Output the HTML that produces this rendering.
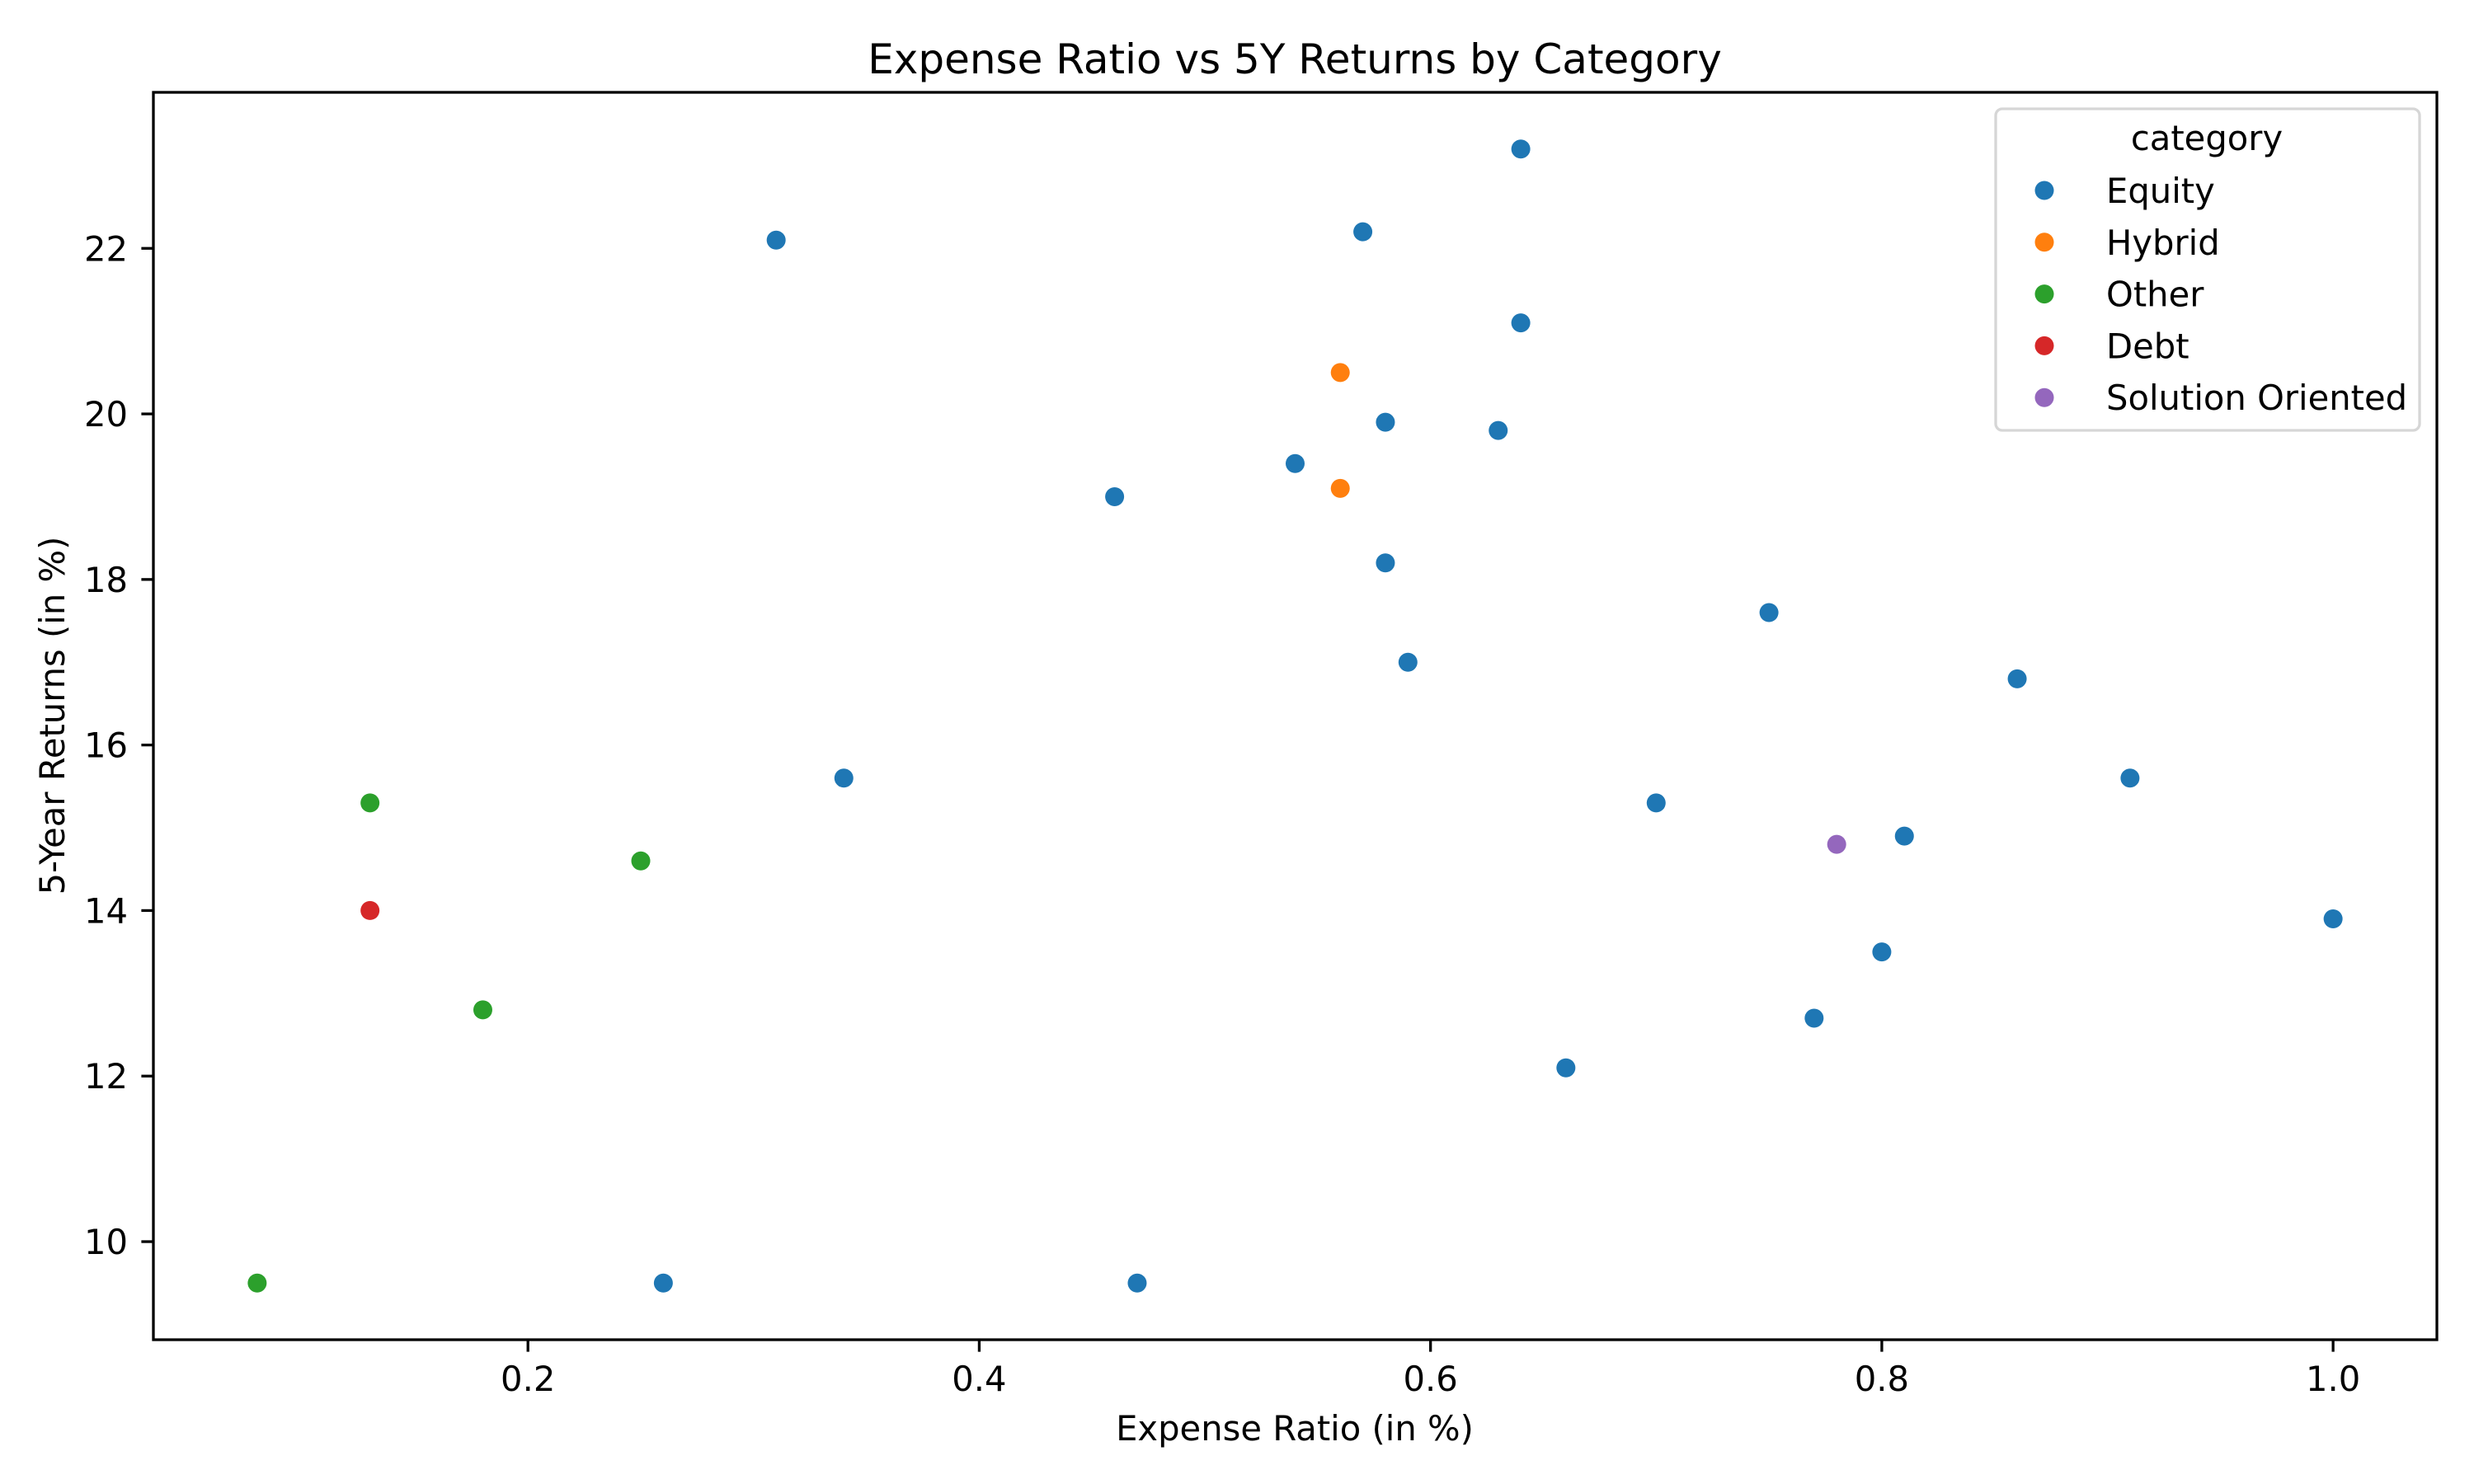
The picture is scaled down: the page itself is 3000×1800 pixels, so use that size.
<!DOCTYPE html>
<html><head><meta charset="utf-8"><style>
html,body{margin:0;padding:0;background:#fff;}
svg{display:block;font-family:"DejaVu Sans","Liberation Sans",sans-serif;}
</style></head><body>
<svg id="chart" width="3000" height="1800" viewBox="0 0 3000 1800">
<text x="1570" y="89" font-size="50" text-anchor="middle">Expense Ratio vs 5Y Returns by Category</text>
<g id="plot"></g>
<text x="1570" y="1747" font-size="41.7" text-anchor="middle">Expense Ratio (in %)</text>
<text transform="translate(78,868) rotate(-90)" font-size="41.7" text-anchor="middle">5-Year Returns (in %)</text>
</svg>
<script>
const categories = ["Equity","Hybrid","Other","Debt","Solution Oriented"];
const colors = ["#1f77b4","#ff7f0e","#2ca02c","#d62728","#9467bd"];
const equityX = [0.64,0.31,0.57,0.64,0.58,0.63,0.54,0.46,0.58,0.75,0.59,0.86,0.34,0.91,0.70,0.81,1.00,0.80,0.77,0.66,0.26,0.47];
const equityY = [23.2,22.1,22.2,21.1,19.9,19.8,19.4,19.0,18.2,17.6,17.0,16.8,15.6,15.6,15.3,14.9,13.9,13.5,12.7,12.1,9.5,9.5];
const hybridX = [0.56,0.56];
const hybridY = [20.5,19.1];
const otherX = [0.13,0.25,0.18,0.08];
const otherY = [15.3,14.6,12.8,9.5];
const debtX = [0.13];
const debtY = [14.0];
const solutionX = [0.78];
const solutionY = [14.8];
const xTicks = [0.2,0.4,0.6,0.8,1.0];
const xTickLabels = ["0.2","0.4","0.6","0.8","1.0"];
const yTicks = [10,12,14,16,18,20,22];
const yTickLabels = ["10","12","14","16","18","20","22"];

const seriesX = [equityX,hybridX,otherX,debtX,solutionX];
const seriesY = [equityY,hybridY,otherY,debtY,solutionY];
const L=186,R=2955,T=112,B=1625;
const allX=[].concat(...seriesX), allY=[].concat(...seriesY);
let x0=Math.min(...allX),x1=Math.max(...allX),y0=Math.min(...allY),y1=Math.max(...allY);
const mx=(x1-x0)*0.05,my=(y1-y0)*0.05;x0-=mx;x1+=mx;y0-=my;y1+=my;
const sx=v=>L+(v-x0)/(x1-x0)*(R-L);
const sy=v=>B-(v-y0)/(y1-y0)*(B-T);
const NS="http://www.w3.org/2000/svg";
const g=document.getElementById('plot');
function mk(tag,attrs,parent){const e=document.createElementNS(NS,tag);for(const k in attrs)e.setAttribute(k,attrs[k]);(parent||g).appendChild(e);return e;}
seriesX.forEach((xs,si)=>{xs.forEach((xv,i)=>{
 const c=mk('circle',{cx:sx(xv),cy:sy(seriesY[si][i]),r:11.5,fill:colors[si]});
 
 
});});
const sp=mk('rect',{x:L,y:T,width:R-L,height:B-T,fill:'none',stroke:'#000','stroke-width':3.3});


xTicks.forEach((v,i)=>{
 const t=mk('line',{x1:sx(v),x2:sx(v),y1:B,y2:B+14.6,stroke:'#000','stroke-width':3.3});
 
 
 const tx=mk('text',{x:sx(v),y:1687,'font-size':41.7,'text-anchor':'middle'});
 tx.textContent=xTickLabels[i];
 
 
});
yTicks.forEach((v,i)=>{
 const t=mk('line',{x1:L-14.6,x2:L,y1:sy(v),y2:sy(v),stroke:'#000','stroke-width':3.3});
 
 
 const tx=mk('text',{x:155,y:sy(v)+15,'font-size':41.7,'text-anchor':'end'});
 tx.textContent=yTickLabels[i];
 
 
});
const lg=mk('g',{});


mk('rect',{x:2420,y:132,width:514,height:390,rx:8,fill:'#fff','fill-opacity':0.8,stroke:'#d6d6d6','stroke-width':3.3},lg);
const lt=mk('text',{x:2676,y:182,'font-size':41.7,'text-anchor':'middle'},lg);
lt.textContent='category';


categories.forEach((c,i)=>{
 const y=231+i*62.8;
 const e=mk('g',{},lg);
 
 
 mk('circle',{cx:2479,cy:y,r:11.5,fill:colors[i]},e);
 const t=mk('text',{x:2554,y:y+15,'font-size':41.7},e);
 t.textContent=c;
});
</script>
</body></html>
